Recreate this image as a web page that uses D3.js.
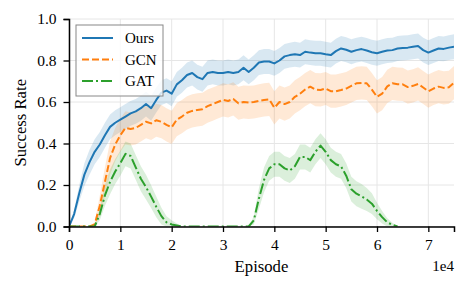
<!DOCTYPE html>
<html>
<head>
<meta charset="utf-8">
<script src="https://cdn.jsdelivr.net/npm/d3@7"></script>
<style>
  body { margin: 0; background: #fff; }
  text { font-family: "Liberation Serif", "Times New Roman", serif; fill: #000; }
</style>
</head>
<body>
<div id="chart"></div>
<script>
// episodes in units of 1e4
let episodes = [0, 0.1, 0.2, 0.3, 0.4, 0.5, 0.6, 0.7, 0.8, 0.9, 1.0, 1.1, 1.2, 1.3, 1.4, 1.5, 1.6, 1.7, 1.8, 1.9,
  2.0, 2.1, 2.2, 2.3, 2.4, 2.5, 2.6, 2.7, 2.8, 2.9, 3.0, 3.1, 3.2, 3.3, 3.4, 3.5, 3.6, 3.7, 3.8, 3.9,
  4.0, 4.1, 4.2, 4.3, 4.4, 4.5, 4.6, 4.7, 4.8, 4.9, 5.0, 5.1, 5.2, 5.3, 5.4, 5.5, 5.6, 5.7, 5.8, 5.9,
  6.0, 6.1, 6.2, 6.3, 6.4, 6.5, 6.6, 6.7, 6.8, 6.9, 7.0, 7.1, 7.2, 7.3, 7.4, 7.5]

let oursMean = [0, 0.06, 0.16, 0.25, 0.31, 0.36, 0.395, 0.44, 0.48, 0.50, 0.515, 0.53, 0.545, 0.555, 0.57, 0.59, 0.57, 0.61, 0.645, 0.655,
  0.64, 0.685, 0.705, 0.73, 0.74, 0.72, 0.71, 0.74, 0.745, 0.74, 0.74, 0.745, 0.74, 0.745, 0.765, 0.745, 0.765, 0.79, 0.795, 0.795,
  0.786, 0.80, 0.82, 0.826, 0.83, 0.826, 0.842, 0.838, 0.835, 0.835, 0.83, 0.826, 0.845, 0.858, 0.852, 0.842, 0.85, 0.855, 0.848, 0.84,
  0.835, 0.842, 0.848, 0.85, 0.858, 0.86, 0.862, 0.866, 0.87, 0.85, 0.838, 0.848, 0.858, 0.856, 0.862, 0.866]
let oursStd = [0, 0.02, 0.04, 0.055, 0.06, 0.06, 0.06, 0.06, 0.06, 0.06, 0.06, 0.06, 0.06, 0.06, 0.06, 0.06, 0.06, 0.06, 0.06, 0.06,
  0.06, 0.06, 0.06, 0.06, 0.06, 0.06, 0.06, 0.06, 0.06, 0.06, 0.06, 0.06, 0.06, 0.06, 0.06, 0.06, 0.06, 0.06, 0.06, 0.06,
  0.06, 0.06, 0.06, 0.06, 0.06, 0.06, 0.06, 0.06, 0.06, 0.06, 0.06, 0.06, 0.06, 0.06, 0.06, 0.06, 0.06, 0.06, 0.06, 0.06,
  0.06, 0.06, 0.06, 0.06, 0.06, 0.06, 0.06, 0.06, 0.06, 0.06, 0.06, 0.06, 0.06, 0.06, 0.06, 0.06]

let gcnMean = [0, 0, 0, 0, 0, 0.01, 0.10, 0.215, 0.33, 0.395, 0.44, 0.475, 0.47, 0.475, 0.49, 0.505, 0.497, 0.512, 0.505, 0.49,
  0.478, 0.515, 0.53, 0.548, 0.557, 0.562, 0.565, 0.58, 0.59, 0.60, 0.61, 0.605, 0.615, 0.594, 0.60, 0.598, 0.60, 0.605, 0.61, 0.613,
  0.572, 0.60, 0.59, 0.60, 0.625, 0.64, 0.66, 0.674, 0.66, 0.658, 0.665, 0.652, 0.652, 0.658, 0.665, 0.678, 0.69, 0.692, 0.69, 0.66,
  0.625, 0.64, 0.675, 0.69, 0.686, 0.685, 0.672, 0.678, 0.687, 0.67, 0.652, 0.665, 0.674, 0.668, 0.671, 0.693]
let gcnStd = [0, 0, 0, 0, 0, 0.01, 0.05, 0.07, 0.08, 0.08, 0.08, 0.08, 0.08, 0.08, 0.08, 0.08, 0.08, 0.08, 0.08, 0.08,
  0.08, 0.08, 0.08, 0.08, 0.08, 0.08, 0.08, 0.08, 0.08, 0.08, 0.08, 0.08, 0.08, 0.08, 0.08, 0.08, 0.08, 0.08, 0.08, 0.08,
  0.08, 0.08, 0.08, 0.08, 0.08, 0.08, 0.08, 0.08, 0.08, 0.08, 0.08, 0.08, 0.08, 0.08, 0.08, 0.08, 0.08, 0.08, 0.08, 0.08,
  0.08, 0.08, 0.08, 0.08, 0.08, 0.08, 0.08, 0.08, 0.08, 0.08, 0.08, 0.08, 0.08, 0.08, 0.08, 0.08]

// GAT stops at 6.4e4
let gatMean = [0, 0, 0, 0, 0, 0, 0.06, 0.15, 0.215, 0.265, 0.305, 0.35, 0.34, 0.285, 0.23, 0.19, 0.144, 0.095, 0.05, 0.02,
  0.01, 0.005, 0, 0, 0, 0, 0, 0, 0, 0, 0, 0, 0, 0, 0, 0, 0.03, 0.135, 0.225, 0.28,
  0.30, 0.30, 0.28, 0.27, 0.29, 0.335, 0.335, 0.32, 0.36, 0.39, 0.36, 0.32, 0.30, 0.29, 0.245, 0.18, 0.158, 0.145, 0.13, 0.11,
  0.075, 0.045, 0.02, 0.008, 0]
let gatStd = [0, 0, 0, 0, 0, 0, 0.03, 0.05, 0.06, 0.06, 0.06, 0.06, 0.06, 0.06, 0.06, 0.06, 0.055, 0.05, 0.04, 0.03,
  0.02, 0.01, 0, 0, 0, 0, 0, 0, 0, 0, 0, 0, 0, 0, 0, 0, 0.02, 0.05, 0.06, 0.06,
  0.06, 0.06, 0.06, 0.06, 0.06, 0.06, 0.06, 0.06, 0.06, 0.06, 0.06, 0.06, 0.06, 0.06, 0.06, 0.06, 0.06, 0.06, 0.055, 0.05,
  0.04, 0.03, 0.02, 0.01, 0]

let xTicks = [0, 1, 2, 3, 4, 5, 6, 7]
let yTicks = [0, 0.2, 0.4, 0.6, 0.8, 1.0]

let width = 468,
  height = 291
let margin = { left: 69, right: 14, top: 19, bottom: 64.5 }

let svg = d3.select('#chart')
  .append('svg')
  .attr('width', width)
  .attr('height', height)

let x = d3.scaleLinear().domain([0, 7.5]).range([margin.left, width - margin.right])
let y = d3.scaleLinear().domain([0, 1]).range([height - margin.bottom, margin.top])

// grid
svg.append('g').selectAll('line')
  .data(xTicks).enter().append('line')
  .attr('x1', d => x(d)).attr('x2', d => x(d))
  .attr('y1', y(0)).attr('y2', y(1))
  .attr('stroke', '#e6e6e6').attr('stroke-width', 1)
svg.append('g').selectAll('line')
  .data(yTicks).enter().append('line')
  .attr('x1', x(0)).attr('x2', x(7.5))
  .attr('y1', d => y(d)).attr('y2', d => y(d))
  .attr('stroke', '#e6e6e6').attr('stroke-width', 1)

svg.append('clipPath').attr('id', 'clip')
  .append('rect')
  .attr('x', x(0)).attr('y', y(1) - 2)
  .attr('width', x(7.5) - x(0)).attr('height', y(0) - y(1) + 2)

let series = [
  { name: 'Ours', mean: oursMean, std: oursStd, color: '#1f77b4', dash: null },
  { name: 'GCN', mean: gcnMean, std: gcnStd, color: '#ff7f0e', dash: '7,3' },
  { name: 'GAT', mean: gatMean, std: gatStd, color: '#2ca02c', dash: '11,3,2,3' }
]

let plot = svg.append('g').attr('clip-path', 'url(#clip)')

let area = d3.area()
  .x(d => x(d.e))
  .y0(d => y(Math.max(0, d.m - d.s)))
  .y1(d => y(d.m + d.s))

let line = d3.line()
  .x(d => x(d.e))
  .y(d => y(d.m))

series.forEach(s => {
  s.points = s.mean.map((m, i) => ({ e: episodes[i], m: m, s: s.std[i] }))
  plot.append('path')
    .datum(s.points)
    .attr('d', area)
    .attr('fill', s.color)
    .attr('fill-opacity', 0.17)
})

series.forEach(s => {
  plot.append('path')
    .datum(s.points)
    .attr('d', line)
    .attr('fill', 'none')
    .attr('stroke', s.color)
    .attr('stroke-width', 2)
    .attr('stroke-linejoin', 'round')
    .attr('stroke-dasharray', s.dash)
})

// axes
svg.append('g')
  .attr('transform', 'translate(0,' + y(0) + ')')
  .call(d3.axisBottom(x).tickValues(xTicks).tickFormat(d3.format('d')).tickSizeOuter(0).tickSize(5.5).tickPadding(7))
svg.append('g')
  .attr('transform', 'translate(' + x(0) + ',0)')
  .call(d3.axisLeft(y).tickValues(yTicks).tickFormat(d3.format('.1f')).tickSizeOuter(0).tickSize(5.5).tickPadding(7))

svg.selectAll('.domain').attr('stroke', '#000').attr('stroke-width', 1.5)
svg.selectAll('.tick line').attr('stroke', '#000').attr('stroke-width', 1.3)
svg.selectAll('.tick text').style('font-family', '"Liberation Serif", serif').style('font-size', '15.5px').attr('fill', '#000')

svg.append('text')
  .attr('x', (x(0) + x(7.5)) / 2)
  .attr('y', 272)
  .attr('text-anchor', 'middle')
  .style('font-size', '16.7px')
  .text('Episode')

svg.append('text')
  .attr('transform', 'translate(25.5,' + (y(0) + y(1)) / 2 + ') rotate(-90)')
  .attr('text-anchor', 'middle')
  .style('font-size', '16.7px')
  .text('Success Rate')

svg.append('text')
  .attr('x', x(7.5))
  .attr('y', 270.5)
  .attr('text-anchor', 'end')
  .style('font-size', '15px')
  .text('1e4')

// legend
let legend = svg.append('g').attr('transform', 'translate(76,25)')
legend.append('rect')
  .attr('width', 87).attr('height', 71)
  .attr('fill', '#fff').attr('fill-opacity', 0.8)
  .attr('stroke', '#888').attr('stroke-width', 1)

let items = legend.selectAll('.legend-item')
  .data(series)
  .enter().append('g')
  .attr('class', 'legend-item')
  .attr('transform', (d, i) => 'translate(0,' + (13 + i * 21.5) + ')')

items.append('line')
  .attr('x1', 6).attr('x2', 37)
  .attr('stroke', d => d.color)
  .attr('stroke-width', 2)
  .attr('stroke-dasharray', d => d.dash)

items.append('text')
  .attr('x', 49)
  .attr('dy', 5)
  .style('font-size', '15px')
  .text(d => d.name)
</script>
</body>
</html>
